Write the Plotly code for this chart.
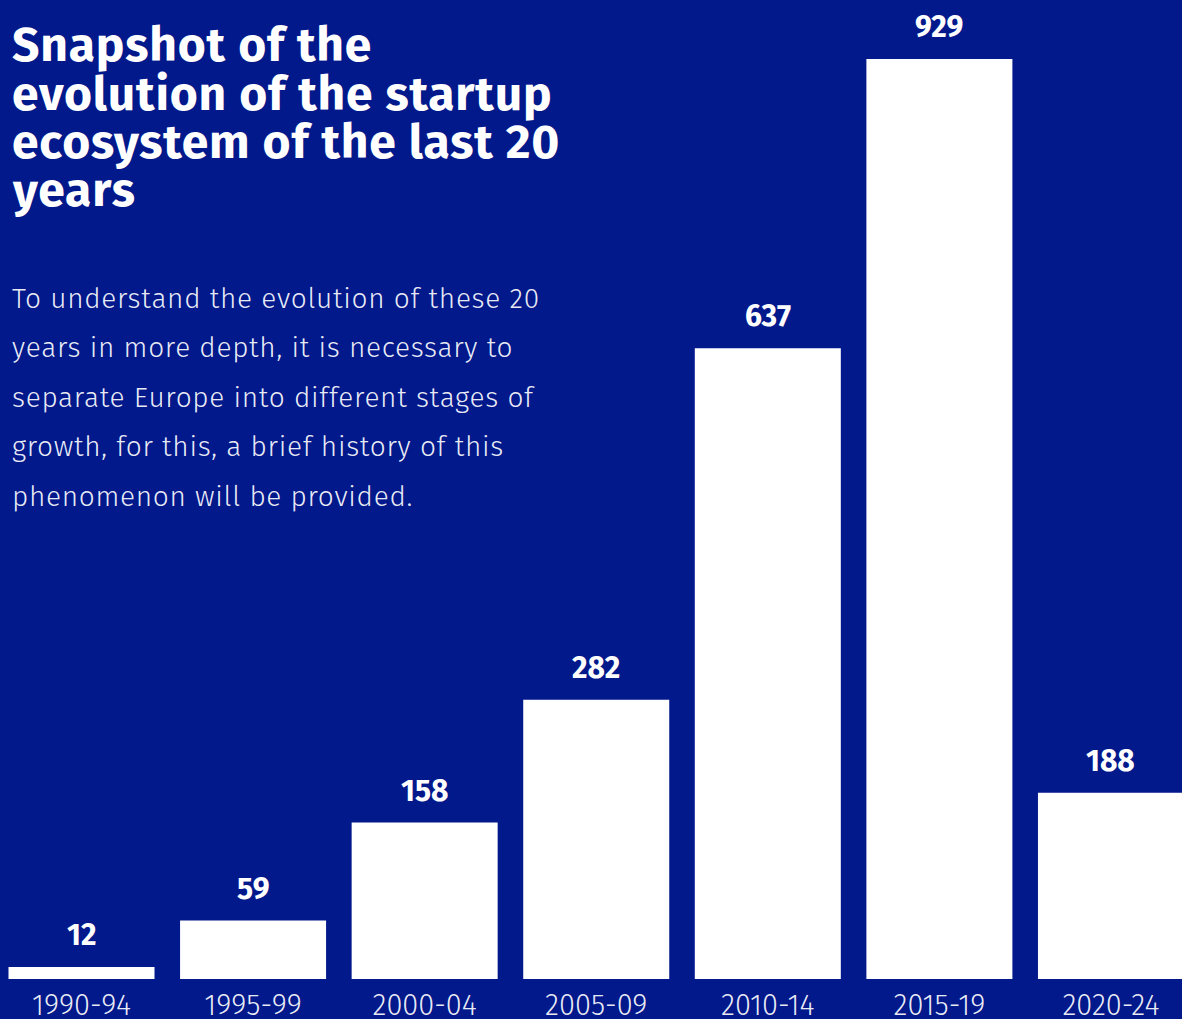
import plotly.graph_objects as go

# Number of startups founded per five-year period
periods = ["1990-94", "1995-99", "2000-04", "2005-09", "2010-14", "2015-19", "2020-24"]
startups = [12, 59, 158, 282, 637, 929, 188]

title_lines = [
    "Snapshot of the",
    "evolution of the startup",
    "ecosystem of the last 20",
    "years",
]
body_lines = [
    "To understand the evolution of these 20",
    "years in more depth, it is necessary to",
    "separate Europe into different stages of",
    "growth, for this, a brief history of this",
    "phenomenon will be provided.",
]

BG = "#02198B"
FONT = "Fira Sans, Lato, sans-serif"
TEXT = "rgba(255,255,255,0.93)"

W, H = 1182, 1019
B = 40                 # bottom margin holding the period labels
PLOT_H = H - B
x_idx = list(range(len(periods)))


def spaced(s, px):
    return f'<span style="letter-spacing:{px}px">{s}</span>'


def px_to_paper(x, y):
    return x / W, 1 - y / PLOT_H


fig = go.Figure(
    go.Bar(
        x=x_idx,
        y=startups,
        marker=dict(color="white", line=dict(width=0)),
        width=0.851,
        hoverinfo="skip",
    )
)

# value labels above each bar
for xi, v in zip(x_idx, startups):
    fig.add_annotation(
        x=xi, y=v, xref="x", yref="y",
        text=f"<b>{v}</b>", showarrow=False,
        yanchor="bottom", yshift=12,
        font=dict(family=FONT, size=30, color="white"),
    )

# headline, one annotation per line
for i, line in enumerate(title_lines):
    px, py = px_to_paper(10, 45 + 48.5 * i)
    fig.add_annotation(
        x=px, y=py, xref="paper", yref="paper",
        text=f"<b>{spaced(line, 0.8)}</b>", showarrow=False,
        xanchor="left", yanchor="middle",
        font=dict(family=FONT, size=48, color="white"),
    )

# descriptive paragraph
for i, line in enumerate(body_lines):
    px, py = px_to_paper(10, 298 + 49.5 * i)
    fig.add_annotation(
        x=px, y=py, xref="paper", yref="paper",
        text=spaced(line, 0.7), showarrow=False,
        xanchor="left", yanchor="middle",
        font=dict(family=FONT, size=28, color=TEXT, weight=300),
    )

fig.update_layout(
    width=W, height=H,
    paper_bgcolor=BG, plot_bgcolor=BG,
    margin=dict(l=0, r=0, t=0, b=B),
    showlegend=False,
    xaxis=dict(
        range=[-0.475, 6.414],
        tickmode="array", tickvals=x_idx, ticktext=periods,
        showgrid=False, zeroline=False, showline=False,
        ticks="", automargin=False, ticklabelstandoff=6,
        tickfont=dict(family=FONT, size=29, color=TEXT, weight=300),
        fixedrange=True,
    ),
    yaxis=dict(
        range=[0, 929 * PLOT_H / 920],
        visible=False, fixedrange=True, automargin=False,
    ),
)

fig.write_html("out.html", config={"displayModeBar": False})
